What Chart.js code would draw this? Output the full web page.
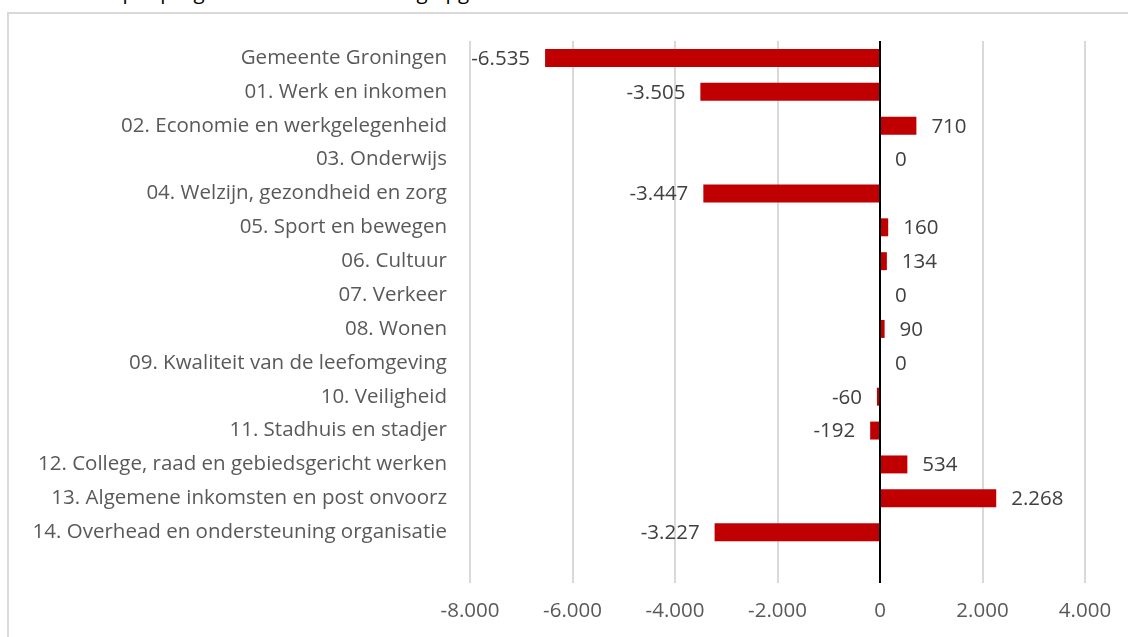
<!DOCTYPE html>
<html>
<head>
<meta charset="utf-8">
<script src="https://cdn.jsdelivr.net/npm/chart.js@4"></script>
<style>
  html, body { margin: 0; padding: 0; background: #fff; overflow: hidden; }
  body { width: 1128px; height: 637px; position: relative; font-family: "Open Sans", sans-serif; }
  #title { position: absolute; left: 28px; top: -22px; font-size: 20.5px; line-height: 26px; color: #000; white-space: nowrap; }
  #frame { position: absolute; left: 7px; top: 12px; width: 1140px; height: 640px; border: 2px solid #d9d9d9; }
  #wrap { position: absolute; left: 0; top: 0; width: 1128px; height: 637px; }
</style>
</head>
<body>
<div id="title">Resultaat per programma na bestemming opgedeeld</div>
<div id="frame"></div>
<div id="wrap"><canvas id="myChart"></canvas></div>
<script>
const programmaLabels = [
  "Gemeente Groningen",
  "01. Werk en inkomen",
  "02. Economie en werkgelegenheid",
  "03. Onderwijs",
  "04. Welzijn, gezondheid en zorg",
  "05. Sport en bewegen",
  "06. Cultuur",
  "07. Verkeer",
  "08. Wonen",
  "09. Kwaliteit van de leefomgeving",
  "10. Veiligheid",
  "11. Stadhuis en stadjer",
  "12. College, raad en gebiedsgericht werken",
  "13. Algemene inkomsten en post onvoorz",
  "14. Overhead en ondersteuning organisatie",
  ""
];
const resultaat = [-6535, -3505, 710, 0, -3447, 160, 134, 0, 90, 0, -60, -192, 534, 2268, -3227, null];
const xMin = -8000;
const xMax = 4000;
const xStep = 2000;

function formatNumber(v) {
  let s = Math.abs(v).toString().replace(/\B(?=(\d{3})+(?!\d))/g, ".");
  return (v < 0 ? "-" : "") + s;
}

// waardes naast de balken
const barLabels = {
  id: "barLabels",
  afterDatasetsDraw(chart) {
    const ctx = chart.ctx;
    const meta = chart.getDatasetMeta(0);
    ctx.save();
    ctx.font = "20.5px 'Open Sans'";
    ctx.fillStyle = "#404040";
    ctx.textBaseline = "middle";
    meta.data.forEach((bar, i) => {
      const v = resultaat[i];
      if (v === null) return;
      if (v < 0) {
        ctx.textAlign = "right";
        ctx.fillText(formatNumber(v), bar.x - 15, bar.y + 1);
      } else {
        ctx.textAlign = "left";
        ctx.fillText(formatNumber(v), bar.x + 15, bar.y + 1);
      }
    });
    ctx.restore();
  },
};

const data = {
  labels: programmaLabels,
  datasets: [
    {
      data: resultaat,
      backgroundColor: "#c00000",
      borderWidth: 0,
      barPercentage: 0.53,
      categoryPercentage: 1,
    },
  ],
};

const config = {
  type: "bar",
  data: data,
  options: {
    indexAxis: "y",
    responsive: false,
    animation: false,
    layout: { padding: { top: 41, right: 43, left: 0, bottom: 0 } },
    plugins: {
      legend: { display: false },
      tooltip: { enabled: false },
    },
    scales: {
      x: {
        min: xMin,
        max: xMax,
        ticks: {
          stepSize: xStep,
          padding: 16,
          color: "#595959",
          font: { family: "Open Sans", size: 20.5 },
          callback: (v) => formatNumber(v),
        },
        grid: {
          color: (c) => (c.tick && c.tick.value === 0 ? "#000000" : "#d9d9d9"),
          lineWidth: 2,
          drawTicks: false,
        },
        border: { display: false },
        afterFit(scale) {
          scale.height = 54;
        },
      },
      y: {
        ticks: {
          padding: 23,
          color: "#595959",
          font: { family: "Open Sans", size: 20.5 },
        },
        grid: { display: false, drawTicks: false },
        border: { display: false },
        afterFit(scale) {
          scale.width = 470;
        },
      },
    },
  },
  plugins: [barLabels],
};

const canvas = document.getElementById("myChart");
canvas.width = 1128;
canvas.height = 637;
const myChart = new Chart(canvas, config);
</script>
</body>
</html>
